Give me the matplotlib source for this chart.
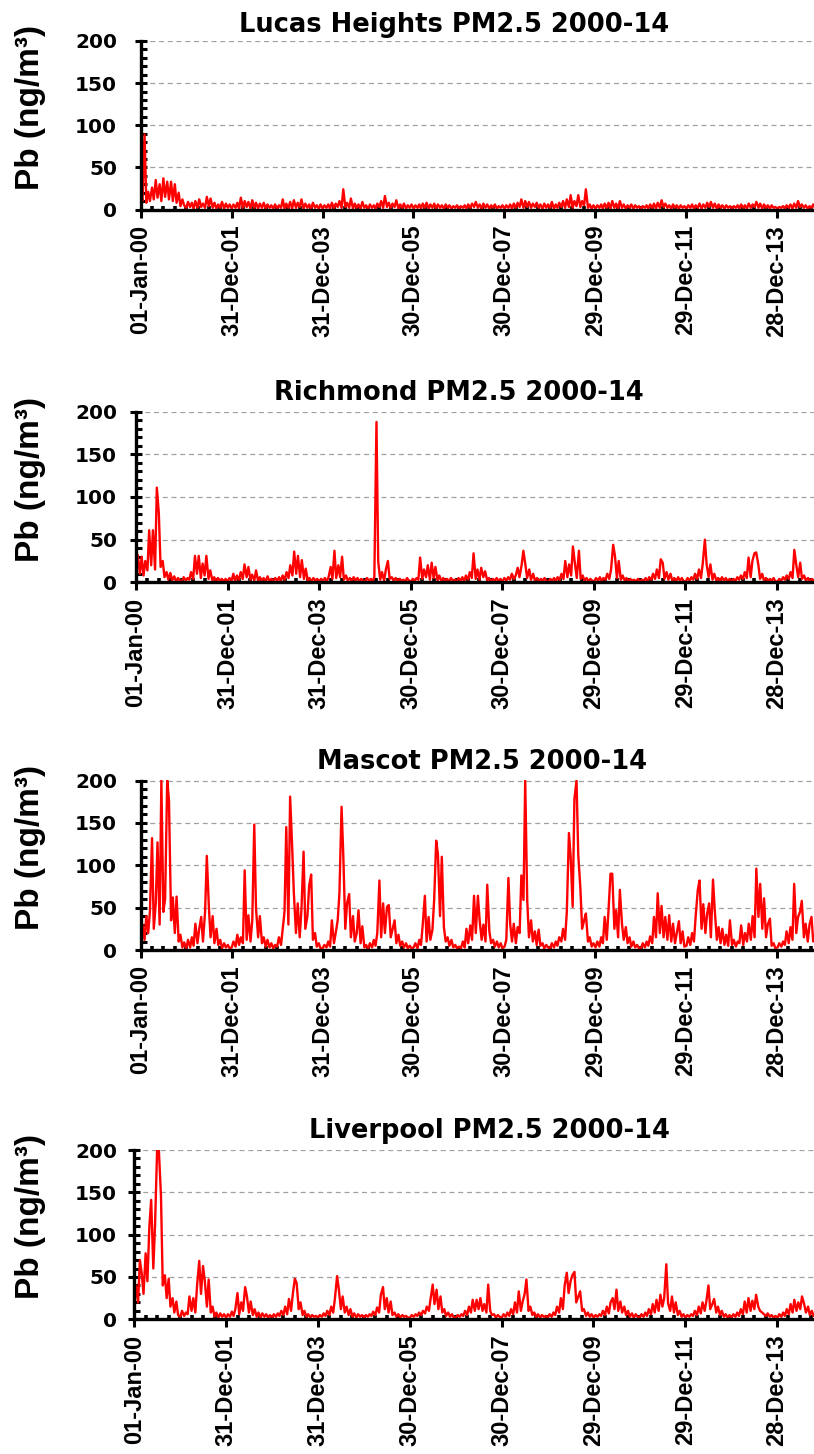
import numpy as np
import pandas as pd
import matplotlib
matplotlib.use("Agg")
import matplotlib.pyplot as plt
import matplotlib.dates as mdates
from matplotlib import font_manager
from matplotlib.ticker import FixedLocator, MultipleLocator

# ---- data: Pb in PM2.5 (ng/m3), two readings per month, 2000-2014 ----
dates = pd.date_range("2000-01-01", "2014-12-31", freq="SMS")

lucas = [
    20, 10, 89, 8, 21, 10, 26, 12, 35, 14, 30, 10, 37, 15, 33, 12, 33, 10, 30, 8, 20, 4, 12, 5,   # 2000
    2, 9, 3, 8, 1, 10, 2, 12, 3, 7, 2, 15, 4, 13, 2, 8, 1, 6, 2, 9, 1, 7, 2, 6,                   # 2001
    1, 6, 2, 8, 1, 14, 2, 10, 3, 9, 1, 11, 2, 8, 1, 7, 2, 8, 1, 6, 2, 5, 1, 6,                    # 2002
    1, 5, 2, 12, 1, 7, 2, 9, 1, 11, 2, 8, 3, 12, 1, 7, 2, 6, 1, 8, 2, 5, 1, 6,                    # 2003
    1, 5, 2, 6, 1, 8, 2, 7, 3, 10, 2, 24, 3, 8, 2, 13, 1, 7, 2, 6, 1, 9, 2, 5,                    # 2004
    1, 6, 2, 5, 1, 7, 3, 10, 2, 16, 3, 8, 2, 7, 3, 11, 1, 6, 2, 7, 1, 5, 2, 6,                    # 2005
    1, 5, 2, 6, 1, 7, 2, 8, 1, 6, 2, 7, 1, 6, 2, 5, 1, 6, 2, 5, 1, 4, 2, 5,                       # 2006
    1, 4, 2, 5, 1, 6, 2, 7, 3, 9, 2, 6, 1, 7, 2, 6, 1, 5, 2, 6, 1, 4, 2, 5,                       # 2007
    1, 5, 2, 6, 1, 7, 2, 8, 3, 12, 2, 10, 3, 9, 2, 7, 3, 8, 2, 6, 1, 7, 2, 6,                     # 2008
    2, 9, 1, 6, 2, 8, 3, 10, 2, 12, 3, 17, 2, 10, 4, 17, 3, 10, 5, 24, 2, 6, 1, 5,                # 2009
    1, 5, 2, 6, 1, 7, 2, 8, 1, 10, 2, 7, 1, 10, 2, 6, 1, 5, 2, 6, 1, 5, 2, 4,                     # 2010
    1, 4, 2, 5, 1, 6, 2, 7, 1, 8, 2, 11, 3, 7, 2, 5, 1, 6, 2, 5, 1, 5, 2, 4,                      # 2011
    1, 5, 2, 6, 1, 5, 2, 7, 1, 6, 2, 8, 3, 9, 2, 7, 1, 6, 2, 5, 1, 5, 2, 4,                       # 2012
    1, 4, 2, 5, 1, 6, 2, 5, 1, 7, 2, 6, 3, 9, 2, 7, 1, 6, 2, 5, 1, 5, 2, 3,                       # 2013
    1, 3, 2, 4, 1, 5, 2, 6, 1, 7, 2, 10, 3, 6, 2, 5, 1, 4, 2, 6, 1, 5, 2, 4,                      # 2014
]

richmond = [
    16, 32, 10, 30, 8, 25, 14, 61, 20, 61, 15, 111, 81, 18, 25, 6, 12, 3, 11, 2, 7, 1, 5, 2,      # 2000
    1, 6, 2, 5, 3, 12, 4, 31, 10, 31, 5, 22, 8, 31, 4, 14, 2, 6, 1, 5, 2, 4, 1, 4,                # 2001
    1, 5, 2, 10, 1, 8, 3, 12, 4, 21, 6, 18, 3, 9, 2, 14, 1, 6, 2, 5, 1, 7, 1, 4,                  # 2002
    1, 5, 2, 6, 1, 8, 3, 12, 5, 20, 8, 36, 10, 31, 6, 26, 4, 16, 2, 5, 1, 5, 2, 4,                # 2003
    1, 4, 2, 5, 1, 6, 18, 4, 37, 5, 20, 6, 30, 3, 8, 2, 5, 1, 6, 2, 5, 1, 4, 2,                   # 2004
    1, 5, 2, 4, 1, 6, 188, 24, 3, 12, 2, 15, 25, 4, 6, 2, 5, 1, 4, 2, 3, 1, 5, 2,                 # 2005
    1, 4, 2, 5, 3, 29, 4, 15, 6, 20, 3, 23, 5, 18, 2, 8, 1, 5, 2, 4, 1, 5, 2, 3,                  # 2006
    1, 5, 2, 6, 1, 8, 3, 12, 5, 34, 4, 15, 3, 17, 6, 13, 2, 5, 1, 4, 2, 5, 1, 4,                  # 2007
    1, 5, 2, 6, 3, 10, 4, 8, 17, 6, 20, 37, 21, 5, 15, 3, 10, 2, 5, 1, 4, 2, 5, 1,                # 2008
    1, 4, 2, 5, 1, 6, 3, 10, 4, 25, 6, 21, 8, 42, 21, 5, 37, 4, 8, 2, 5, 1, 4, 2,                 # 2009
    1, 5, 2, 6, 1, 5, 3, 10, 4, 15, 44, 31, 5, 25, 3, 8, 2, 5, 1, 4, 2, 3, 1, 4,                  # 2010
    1, 3, 2, 5, 1, 6, 3, 10, 4, 15, 5, 27, 23, 4, 12, 3, 10, 2, 5, 1, 6, 2, 5, 1,                 # 2011
    1, 5, 2, 6, 3, 10, 4, 15, 5, 22, 50, 21, 6, 21, 3, 10, 2, 5, 1, 6, 2, 5, 1, 4,                # 2012
    1, 4, 2, 6, 3, 8, 4, 12, 5, 29, 6, 25, 34, 35, 21, 4, 10, 2, 5, 1, 4, 2, 5, 1,                # 2013
    1, 4, 2, 6, 3, 8, 4, 12, 5, 38, 19, 6, 23, 4, 8, 2, 5, 1, 4, 2, 5, 1, 4, 2,                   # 2014
]

mascot = [
    8, 30, 12, 40, 20, 45, 132, 25, 55, 127, 30, 200, 45, 60, 200, 177, 35, 62, 20, 63, 10, 18, 3, 9,    # 2000
    2, 12, 3, 15, 5, 31, 8, 25, 39, 10, 45, 111, 52, 15, 40, 8, 25, 6, 12, 2, 8, 3, 6, 2,               # 2001
    3, 10, 4, 18, 6, 15, 8, 94, 12, 41, 10, 35, 148, 49, 15, 40, 8, 15, 4, 12, 3, 8, 2, 6,              # 2002
    4, 15, 6, 25, 45, 145, 30, 181, 123, 67, 20, 55, 15, 48, 116, 25, 40, 76, 89, 12, 20, 4, 8, 2,      # 2003
    2, 6, 3, 10, 4, 35, 8, 20, 35, 67, 169, 112, 25, 55, 66, 15, 40, 10, 20, 47, 8, 28, 3, 6,           # 2004
    2, 8, 3, 12, 5, 20, 82, 15, 55, 20, 51, 53, 15, 24, 35, 8, 18, 5, 10, 3, 8, 2, 5, 2,                # 2005
    3, 8, 2, 12, 6, 30, 64, 10, 39, 12, 24, 60, 129, 113, 40, 110, 27, 10, 15, 5, 12, 3, 6, 2,          # 2006
    4, 2, 10, 3, 25, 8, 29, 12, 64, 20, 64, 35, 12, 30, 10, 77, 22, 8, 12, 4, 10, 3, 8, 2,              # 2007
    4, 12, 85, 31, 10, 31, 8, 27, 20, 88, 59, 200, 59, 15, 35, 10, 22, 6, 24, 5, 8, 2, 6, 3,            # 2008
    2, 8, 3, 10, 5, 15, 10, 25, 12, 45, 138, 110, 51, 178, 200, 112, 73, 25, 35, 43, 10, 15, 4, 8,      # 2009
    3, 10, 4, 15, 8, 39, 12, 47, 90, 90, 25, 47, 15, 71, 31, 12, 27, 8, 15, 4, 10, 3, 6, 2,             # 2010
    2, 8, 3, 10, 5, 16, 8, 39, 15, 67, 20, 52, 15, 39, 12, 41, 10, 31, 8, 20, 34, 8, 22, 4,             # 2011
    5, 15, 6, 20, 10, 40, 71, 82, 25, 54, 20, 43, 55, 15, 83, 47, 12, 27, 8, 25, 6, 18, 5, 35,          # 2012
    6, 12, 4, 10, 8, 29, 6, 20, 10, 31, 12, 40, 15, 96, 39, 78, 25, 61, 15, 30, 37, 5, 8, 2,            # 2013
    3, 8, 4, 10, 6, 22, 8, 27, 12, 78, 20, 39, 45, 58, 15, 31, 10, 30, 39, 10, 15, 4, 8, 3,             # 2014
]

liverpool = [
    15, 40, 20, 70, 54, 30, 78, 45, 111, 141, 60, 113, 200, 200, 145, 40, 52, 25, 48, 15, 25, 8, 21, 5,  # 2000
    3, 10, 4, 8, 6, 27, 10, 25, 8, 40, 69, 30, 63, 46, 15, 47, 8, 15, 3, 8, 2, 7, 3, 6,                 # 2001
    2, 6, 3, 9, 4, 12, 31, 6, 20, 10, 38, 27, 8, 21, 5, 12, 3, 8, 2, 7, 3, 6, 2, 5,                     # 2002
    2, 6, 3, 7, 4, 10, 5, 15, 6, 24, 10, 30, 48, 43, 12, 20, 5, 10, 3, 6, 2, 5, 3, 4,                   # 2003
    2, 5, 3, 7, 4, 10, 5, 15, 8, 25, 51, 35, 12, 27, 8, 15, 5, 12, 3, 7, 2, 6, 3, 5,                    # 2004
    2, 5, 3, 6, 4, 9, 5, 14, 8, 29, 38, 12, 25, 8, 21, 5, 8, 3, 6, 2, 5, 3, 4, 2,                       # 2005
    2, 5, 3, 6, 4, 8, 5, 10, 7, 15, 10, 25, 41, 18, 35, 12, 27, 8, 12, 4, 8, 3, 6, 2,                   # 2006
    2, 5, 3, 6, 4, 10, 5, 15, 8, 23, 10, 23, 12, 25, 10, 18, 8, 41, 10, 5, 6, 2, 5, 3,                  # 2007
    2, 6, 3, 8, 4, 12, 6, 20, 8, 33, 10, 21, 30, 47, 10, 15, 5, 8, 3, 6, 2, 5, 3, 4,                    # 2008
    2, 6, 3, 8, 5, 15, 8, 25, 12, 40, 55, 31, 45, 52, 56, 20, 27, 33, 10, 12, 4, 8, 3, 6,               # 2009
    2, 5, 3, 6, 4, 10, 5, 15, 7, 20, 25, 12, 35, 10, 21, 8, 15, 5, 10, 3, 7, 2, 6, 3,                   # 2010
    2, 6, 3, 8, 4, 12, 6, 18, 8, 23, 10, 29, 15, 25, 65, 19, 10, 27, 8, 20, 5, 10, 3, 6,                # 2011
    2, 5, 3, 6, 4, 10, 5, 15, 7, 20, 10, 22, 40, 12, 18, 24, 8, 15, 5, 10, 3, 6, 2, 5,                  # 2012
    2, 6, 3, 8, 4, 12, 6, 21, 8, 25, 10, 22, 12, 29, 15, 10, 8, 6, 4, 7, 3, 5, 2, 4,                    # 2013
    2, 6, 3, 8, 4, 12, 6, 18, 8, 23, 10, 20, 12, 27, 18, 8, 15, 5, 10, 4, 6, 3, 5, 2,                   # 2014
]

titles = ["Lucas Heights PM2.5 2000-14", "Richmond PM2.5 2000-14",
          "Mascot PM2.5 2000-14", "Liverpool PM2.5 2000-14"]
series = [lucas, richmond, mascot, liverpool]
tick_dates = pd.to_datetime(["2000-01-01", "2001-12-31", "2003-12-31", "2005-12-30",
                             "2007-12-30", "2009-12-29", "2011-12-29", "2013-12-28"])
tick_labels = [d.strftime("%d-%b-%y") for d in tick_dates]
yticks = [0, 50, 100, 150, 200]
ylabel = "Pb (ng/m³)"

# ---- layout (pixels) ----
W, H, DPI = 814, 1454, 100
pan_left = [140.7, 136.0, 140.7, 134.2]
pan_top = [41.0, 411.7, 780.5, 1150.0]
pan_bot = [209.5, 582.3, 950.0, 1319.3]
title_x = [454, 459, 482, 489]
title_base = [32, 400, 769, 1138]
last_tick_px = 777.0
label_right_px = 117.0


def has_font(name):
    try:
        font_manager.findfont(font_manager.FontProperties(family=name),
                              fallback_to_default=False)
        return True
    except ValueError:
        return False


if has_font("Liberation Sans Narrow"):
    rot_font, rot_size = "Liberation Sans Narrow", 21
else:
    rot_font, rot_size = "Liberation Sans", 17

x = mdates.date2num(dates)
x0 = mdates.date2num(pd.Timestamp("2000-01-01"))
xend = mdates.date2num(pd.Timestamp("2014-12-31"))
xt = mdates.date2num(tick_dates)
span_ticks = xt[-1] - x0

fig = plt.figure(figsize=(W / DPI, H / DPI), dpi=DPI)

for i in range(4):
    L = pan_left[i]
    wpx = (last_tick_px - L) * (xend - x0) / span_ticks
    hpx = pan_bot[i] - pan_top[i]
    ax = fig.add_axes([L / W, 1 - pan_bot[i] / H, wpx / W, hpx / H])

    ax.plot(x, series[i], color="#ff0000", lw=1.7, zorder=3)

    ax.set_xlim(x0, xend)
    ax.set_ylim(0, 200)

    ax.set_xticks(xt, labels=tick_labels, rotation=90, fontsize=rot_size,
                  fontweight="bold", fontfamily=rot_font)
    ax.xaxis.set_minor_locator(FixedLocator(np.arange(x0, xend, span_ticks / 56)))
    out_px = 5.5
    pad_pt = (L - label_right_px - out_px) * 72 / DPI
    ax.set_yticks(yticks, labels=[str(v) for v in yticks], fontsize=14.5,
                  fontweight="bold", fontfamily="DejaVu Sans")
    ax.yaxis.set_minor_locator(MultipleLocator(10))

    ax.tick_params(axis="x", which="major", direction="out", length=6, width=2.2,
                   pad=5)
    ax.tick_params(axis="x", which="minor", direction="in", length=3, width=2.6)
    ax.tick_params(axis="y", which="major", direction="inout", length=8, width=2.2,
                   pad=pad_pt)
    ax.tick_params(axis="y", which="minor", direction="in", length=4, width=2.2)

    for s in ("top", "right"):
        ax.spines[s].set_visible(False)
    for s in ("left", "bottom"):
        ax.spines[s].set_linewidth(2.4)
        ax.spines[s].set_zorder(4)

    ax.yaxis.grid(True, which="major", linestyle=(0, (4, 3)), color="#a0a0a0", lw=0.9)
    ax.set_axisbelow(True)

    fig.text(title_x[i] / W, 1 - title_base[i] / H, titles[i], ha="center",
             va="baseline", fontsize=18.5, fontweight="bold", fontfamily="DejaVu Sans")

    ymid = (pan_top[i] + pan_bot[i]) / 2 - 18
    fig.text(31 / W, 1 - ymid / H, ylabel, rotation=90, ha="center", va="center",
             fontsize=24, fontweight="bold", fontfamily="Liberation Sans")

fig.savefig("out.png", dpi=DPI)
